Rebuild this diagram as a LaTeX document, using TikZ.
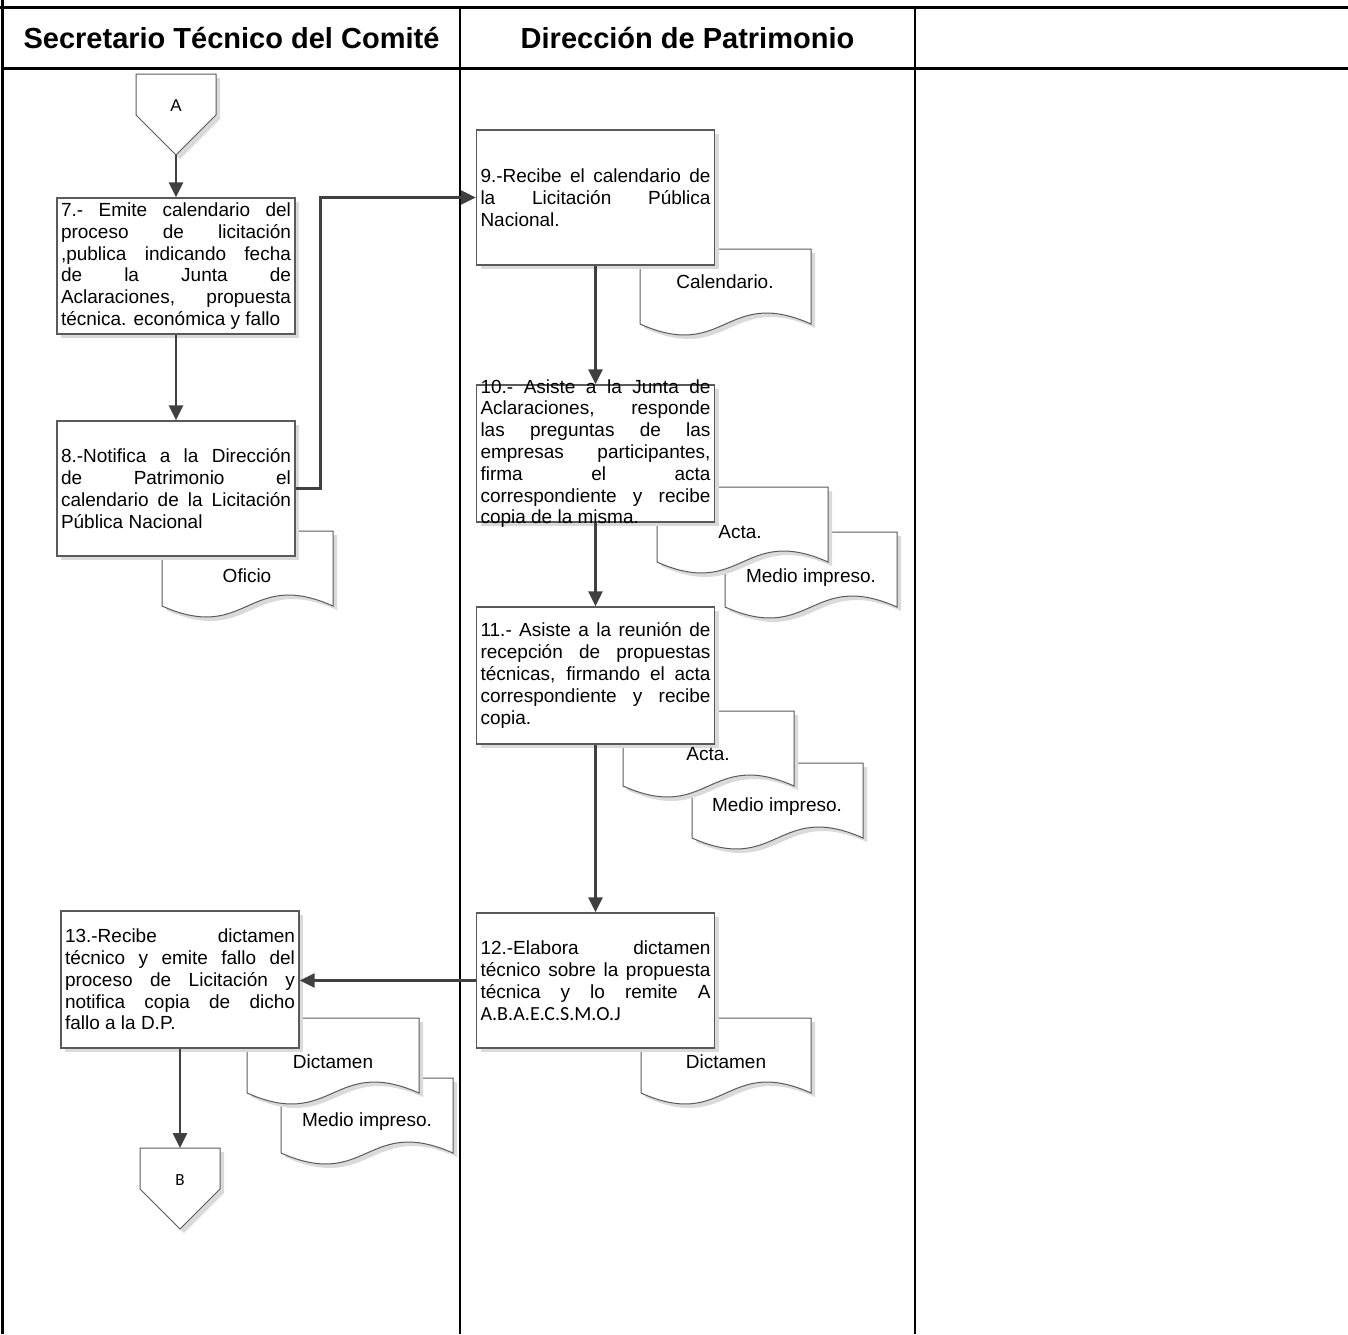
\documentclass[tikz,border=0pt]{standalone}
\usepackage{fontspec}
\setmainfont{Liberation Sans}
\newfontfamily\carlito{Carlito}
\usetikzlibrary{arrows.meta,shadows}
\definecolor{boxline}{HTML}{5A5A5A}
\definecolor{arrcol}{HTML}{404040}
\definecolor{shadowc}{HTML}{DADADA}
\newcommand\bodyfont{\fontsize{19}{21.8}\selectfont}
\newcommand\btext[1]{\parbox{230pt}{\bodyfont\parindent=0pt\tolerance=10000\hbadness=10000\hyphenpenalty=10000\exhyphenpenalty=10000 #1}}
\tikzset{
  myshadow/.style={drop shadow={shadow xshift=4pt, shadow yshift=-4pt, fill=shadowc, opacity=1}},
  box/.style={draw=boxline, line width=1.3pt, fill=white, myshadow, minimum width=238pt, inner sep=0pt},
  txt/.style={inner sep=0pt},
  docst/.style={draw=boxline, line width=1pt, fill=white, myshadow},
  doctext/.style={inner sep=0pt, font=\bodyfont},
  offst/.style={draw=boxline, line width=1pt, fill=white, myshadow},
  arr/.style={draw=arrcol, line width=2.6pt, -{Triangle[length=15pt,width=14pt]}},
  hdr/.style={inner sep=0pt, font=\bfseries\fontsize{29}{31}\selectfont},
  thickrule/.style={line width=3pt, black},
  thinrule/.style={line width=2pt, black}
}
% document shape: x0, x1, top
\newcommand\docshape[3]{\draw[docst] (#1,#3) -- (#2,#3) -- (#2,{#3+75}) .. controls ({(#1+#2)/2},{#3+75-38}) and ({(#1+#2)/2},{#3+75+38}) .. (#1,{#3+75}) -- cycle;}
% off-page connector: cx, top
\newcommand\offpage[2]{\draw[offst] ({#1-40},#2) -- ({#1+40},#2) -- ({#1+40},{#2+41}) -- (#1,{#2+81}) -- ({#1-40},{#2+41}) -- cycle;}
\begin{document}
\begin{tikzpicture}[x=1pt,y=-1pt]
\useasboundingbox (0,0) rectangle (1348,1334);
% frame
\draw[thinrule] (460,7) -- (460,1334);
\draw[thinrule] (915,7) -- (915,1334);
\draw[thickrule] (0,7) -- (1348,7);
\draw[thickrule] (2.5,68) -- (1348,68);
\draw[line width=2.5pt] (2.5,0) -- (2.5,1334);
\node[hdr] (h1) at (231.5,38.5) {Secretario Técnico del Comité};
\node[hdr] (h2) at (687.5,38.5) {Dirección de Patrimonio};

% off-page connectors
\offpage{176}{74}
\coordinate (Atip) at (176,155);
\node[txt, font=\fontsize{17}{19}\selectfont] (A) at (176,106) {A};
\offpage{180}{1148}
\coordinate (Btop) at (180,1148);
\node[txt, font=\carlito\fontsize{17}{19}\selectfont] (B) at (180,1180) {B};

% documents (back ones first)
\docshape{725}{897}{532}
\docshape{692}{863}{763}
\docshape{281}{453}{1078}
\docshape{640}{811}{249}
\docshape{162}{333}{531}
\docshape{657}{828}{487}
\docshape{623}{794}{711}
\docshape{641}{811}{1018}
\docshape{247}{419}{1018}

% process boxes
\node[box, minimum height=136pt] (b7) at (176,266) {};
\node[box, minimum height=135pt] (b8) at (176,488.5) {};
\node[box, minimum height=135pt] (b9) at (595.5,197.5) {};
\node[box, minimum height=137pt] (b10) at (595.5,453.5) {};
\node[box, minimum height=137pt] (b11) at (595.5,675.5) {};
\node[box, minimum height=135pt] (b12) at (595.5,980.5) {};
\node[box, minimum height=137pt] (b13) at (180,979.5) {};

\node[txt] (t7) at (b7.center) {\btext{7.- Emite calendario del\linebreak proceso de licitación\linebreak ,publica indicando fecha\linebreak de la Junta de\linebreak Aclaraciones, propuesta\linebreak técnica. económica y fallo}};
\node[txt] (t8) at (b8.center) {\btext{8.-Notifica a la Dirección\linebreak de Patrimonio el\linebreak calendario de la Licitación\linebreak Pública Nacional}};
\node[txt] (t9) at (b9.center) {\btext{9.-Recibe el calendario de\linebreak la Licitación Pública\linebreak Nacional.}};
\node[txt] (t10) at (b10.center) {\btext{10.- Asiste a la Junta de\linebreak Aclaraciones, responde\linebreak las preguntas de las\linebreak empresas participantes,\linebreak firma el acta\linebreak correspondiente y recibe\linebreak copia de la misma.}};
\node[txt] (t11) at (b11.center) {\btext{11.- Asiste a la reunión de\linebreak recepción de propuestas\linebreak técnicas, firmando el acta\linebreak correspondiente y recibe\linebreak copia.}};
\node[txt] (t12) at (b12.center) {\btext{12.-Elabora dictamen\linebreak técnico sobre la propuesta\linebreak técnica y lo remite A\linebreak {\carlito\fontsize{20}{21.8}\selectfont A.B.A.E.C.S.M.O.J}}};
\node[txt] (t13) at (b13.center) {\btext{13.-Recibe dictamen\linebreak técnico y emite fallo del\linebreak proceso de Licitación y\linebreak notifica copia de dicho\linebreak fallo a la D.P.}};

% document labels
\node[doctext] (d9) at (725,282) {Calendario.};
\node[doctext] (d8) at (247,576) {Oficio};
\node[doctext] (d10a) at (740,532) {Acta.};
\node[doctext] (d10b) at (811,578) {Medio impreso.};
\node[doctext] (d11a) at (708,754) {Acta.};
\node[doctext] (d11b) at (777,807) {Medio impreso.};
\node[doctext] (d12) at (726,1062) {Dictamen};
\node[doctext] (d13a) at (333,1062) {Dictamen};
\node[doctext] (d13b) at (367,1122) {Medio impreso.};

% connectors
\draw[arr] (Atip) -- (Atip |- b7.north);
\draw[arr] (b7.south) -- (b8.north);
\draw[arr] (b8.east) -- ++(25,0) |- (b9.west);
\draw[arr] (b9.south) -- (b10.north);
\draw[arr] (b10.south) -- (b11.north);
\draw[arr] (b11.south) -- (b12.north);
\draw[arr] (b12.west) -- (b12.west -| b13.east);
\draw[arr] (b13.south) -- (Btop);
\end{tikzpicture}
\end{document}
